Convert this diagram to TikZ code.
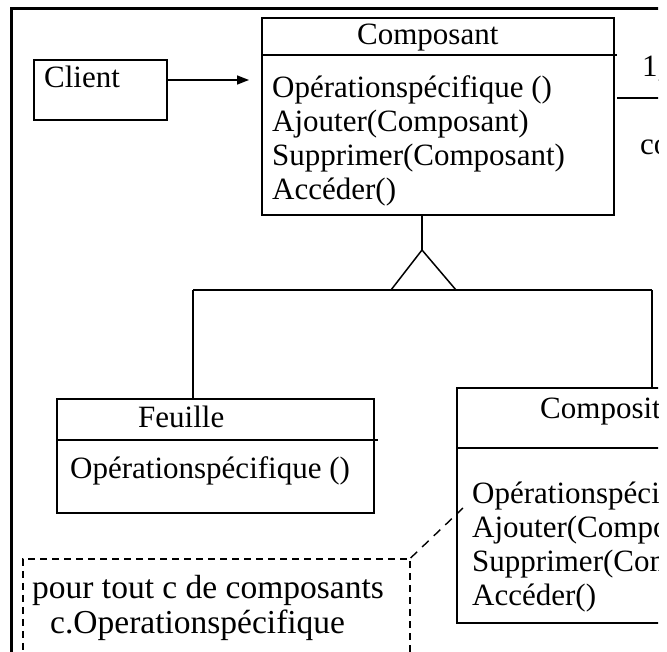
\documentclass[tikz,border=0pt]{standalone}
\usepackage{fontspec}
\setmainfont{Liberation Serif}
\usetikzlibrary{arrows.meta}
\begin{document}
\begin{tikzpicture}[x=1pt,y=-1pt,
  box/.style={draw,line width=2pt,inner sep=0pt,anchor=north west},
  txt/.style={anchor=base west,inner sep=0pt,font=\fontsize{31}{34}\selectfont},
  notetxt/.style={anchor=base west,inner sep=0pt,font=\fontsize{33.5}{36}\selectfont},
  sep/.style={line width=1.3pt},
  conn/.style={line width=1.5pt},
  notebox/.style={draw,line width=1.6pt,dash pattern=on 7pt off 5pt,inner sep=0pt,anchor=north west},
  dashconn/.style={line width=1.4pt,dash pattern=on 9pt off 7pt}]
\useasboundingbox (0,0) rectangle (667,652);
\fill[white] (0,0) rectangle (667,652);
\clip (0,0) rectangle (658,652);
% outer frame
\coordinate (fa) at (11,670);
\coordinate (fb) at (11,9);
\coordinate (fc) at (670,9);
\draw[line width=3pt] (fa) -- (fb) -- (fc);
% Client
\node[box,minimum width=133pt,minimum height=60pt] (client) at (33,59) {};
\node[txt] (clientlbl) at (44,88) {Client};
% Composant
\node[box,minimum width=352pt,minimum height=197pt] (composant) at (261,17) {};
\node[txt] (cpttitle) at (357,45) {Composant};
\coordinate (h1a) at (261,55);
\coordinate (h1b) at (617,55);
\draw[sep] (h1a) -- (h1b);
\node[txt] (c1) at (272,98) {Opérationspécifique ()};
\node[txt] (c2) at (272,132) {Ajouter(Composant)};
\node[txt] (c3) at (272,166) {Supprimer(Composant)};
\node[txt] (c4) at (272,200) {Accéder()};
% association arrow
\coordinate (ya) at (0,80);
\draw[conn,-{Triangle[length=12pt,width=9pt]},shorten >=12pt] (client.east |- ya) -- (composant.west |- ya);
% multiplicity (cut at right)
\coordinate (m1) at (617,98);
\coordinate (m2) at (670,98);
\draw[sep] (m1) -- (m2);
\node[txt] (mult) at (642,77) {1,};
\node[txt] (role) at (640,155) {co};
% generalisation
\coordinate (apex) at (422,250);
\coordinate (bl) at (391,290);
\coordinate (br) at (456,290);
\draw[conn] (apex |- composant.south) -- (apex);
\draw[conn,line join=miter] (apex) -- (bl) -- (br) -- cycle;
% Feuille
\node[box,minimum width=317pt,minimum height=114pt] (feuille) at (56,398) {};
\coordinate (h2a) at (56,440);
\coordinate (h2b) at (378,440);
\draw[sep] (h2a) -- (h2b);
\node[txt] (ftitle) at (138,428) {Feuille};
\node[txt] (f1) at (70,478) {Opérationspécifique ()};
% Composite (cut at right)
\node[box,minimum width=300pt,minimum height=235pt] (composite) at (456,387) {};
\coordinate (h3a) at (456,448);
\coordinate (h3b) at (760,448);
\draw[sep] (h3a) -- (h3b);
\node[txt] (ctitle) at (540,418) {Composit};
\node[txt] (k1) at (472,503) {Opérationspéci};
\node[txt] (k2) at (472,537) {Ajouter(Compo};
\node[txt] (k3) at (472,571) {Supprimer(Com};
\node[txt] (k4) at (472,605) {Accéder()};
% generalisation branches
\coordinate (hl) at (193,290);
\coordinate (hr) at (652,290);
\draw[conn] (hl) -- (hr);
\draw[conn] (hl) -- (hl |- feuille.north);
\draw[conn] (hr) -- (hr |- composite.north);
% note
\node[notebox,minimum width=387pt,minimum height=150pt] (note) at (22,558) {};
\node[notetxt] (n1) at (32,598) {pour tout c de composants};
\node[notetxt] (n2) at (50,633) {c.Operationspécifique};
\coordinate (cp) at (463,508);
\draw[dashconn] (note.north east) -- (cp);
\end{tikzpicture}
\end{document}
